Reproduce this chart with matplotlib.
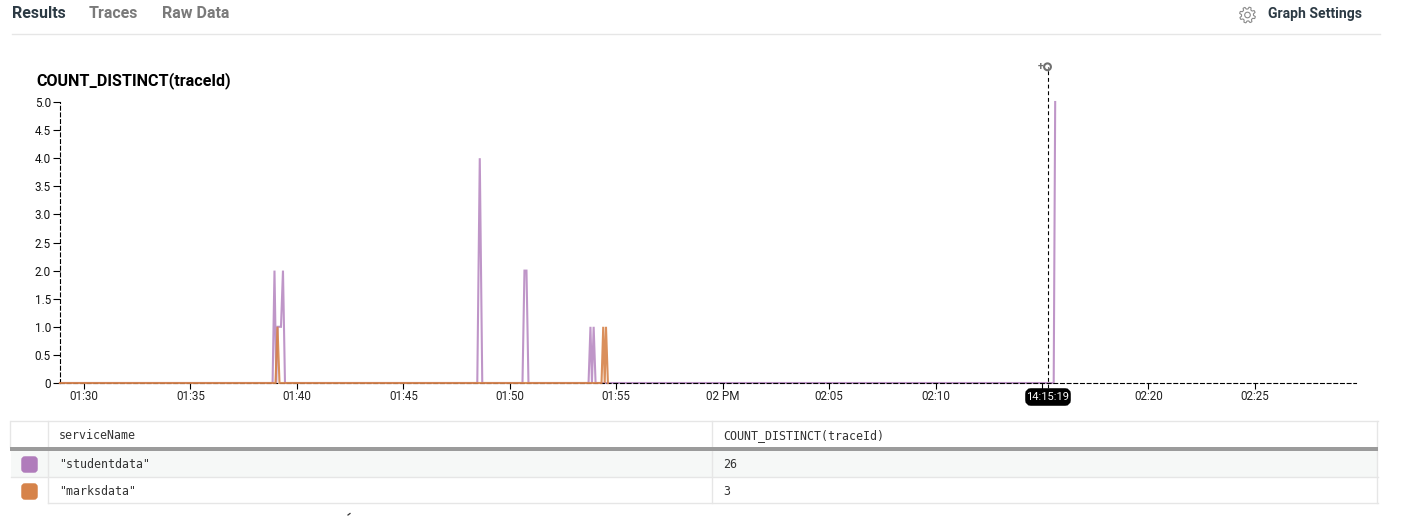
import numpy as np
import matplotlib
matplotlib.use("Agg")
import matplotlib.pyplot as plt
from matplotlib.patches import FancyBboxPatch, Rectangle, Polygon, Circle

plt.rcParams['font.family'] = ['Roboto', 'DejaVu Sans']

# minutes after 01:30
student_t = [-1.13, 8.859, 8.948, 9.032, 9.093, 9.253, 9.347, 9.441,
             18.474, 18.591, 18.708,
             20.597, 20.690, 20.785, 20.878,
             23.70, 23.79, 23.86, 23.94, 24.03,
             45.55, 45.62]
student_v = [0, 0, 2, 0, 1, 1, 2, 0,
             0, 4, 0,
             0, 2, 2, 0,
             0, 1, 0, 1, 0,
             0, 5]
marks_t = [-1.13, 8.995, 9.089, 9.183, 24.31, 24.39, 24.46, 24.52, 24.61]
marks_v = [0, 0, 1, 0, 0, 1, 0, 1, 0]

x_ticks = [0, 5, 10, 15, 20, 25, 30, 35, 40, 45, 50, 55]
x_labels = ['01:30', '01:35', '01:40', '01:45', '01:50', '01:55', '02 PM',
            '02:05', '02:10', '', '02:20', '02:25']
y_ticks = [0, 0.5, 1, 1.5, 2, 2.5, 3, 3.5, 4, 4.5, 5]
y_labels = ['0', '0.5', '1.0', '1.5', '2.0', '2.5', '3.0', '3.5', '4.0', '4.5', '5.0']
cursor_t = 45.29
cursor_label = '14:15:19'

services = ['"studentdata"', '"marksdata"']
counts = ['26', '3']
col_names = ['serviceName', 'COUNT_DISTINCT(traceId)']
title = 'COUNT_DISTINCT(traceId)'
tabs = ['Results', 'Traces', 'Raw Data']

PURPLE = '#B07CBB'
ORANGE = '#D6834A'
W, H = 1404, 516
DASH = (0, (3.5, 2.5))

fig = plt.figure(figsize=(W / 100, H / 100), dpi=100, facecolor='white')
ax = fig.add_axes([60 / W, 1 - 383 / H, (1356 - 60) / W, (383 - 102) / H])
ax.set_xlim(-1.127, 59.75)
ax.set_ylim(0, 5)
ax.plot(student_t, student_v, color=PURPLE, lw=1.5, alpha=0.8, zorder=2,
        clip_on=False, solid_joinstyle='miter')
ax.plot(marks_t, marks_v, color=ORANGE, lw=1.5, alpha=0.9, zorder=3,
        clip_on=False, solid_joinstyle='miter')
ax.spines[['top', 'right']].set_visible(False)
for side in ['left', 'bottom']:
    ax.spines[side].set_linewidth(0.8)
    ax.spines[side].set_linestyle(DASH)
ax.set_xticks(x_ticks, x_labels, fontsize=8.4, color='#222222')
ax.set_yticks(y_ticks, y_labels, fontsize=8.4, color='#111111')
ax.tick_params(axis='x', length=4.5, width=0.8, pad=0.8)
ax.tick_params(axis='y', length=5.0, width=0.8, pad=1.5)
for t in ax.xaxis.get_major_ticks() + ax.yaxis.get_major_ticks():
    t.tick1line.set_linestyle((0, (2.5, 1.5)))
ax.axvline(cursor_t, ymin=-0.018, ymax=1.125, color='black', lw=0.8, ls=DASH,
           clip_on=False, zorder=4)

ov = fig.add_axes([0, 0, 1, 1], facecolor='none')
ov.set_xlim(0, W)
ov.set_ylim(H, 0)
ov.axis('off')

# header
for name, x, c in zip(tabs, [12, 89, 162], ['#2C3A44', '#7A7A7A', '#7A7A7A']):
    ov.text(x, 13, name, fontsize=11.5, fontweight=600, color=c, va='center', ha='left')
ov.plot([12, 1380], [34, 34], color='#E6E6E6', lw=1)
ov.text(1268, 14, 'Graph Settings', fontsize=10.1, fontweight=600, color='#2C3A44',
        va='center', ha='left')

# gear icon
ang = np.linspace(0, 2 * np.pi, 8 * 6, endpoint=False)
rad = np.array([8.0, 8.0, 8.0, 6.0, 6.0, 6.0] * 8)
ov.add_patch(Polygon(np.c_[1247.5 + rad * np.cos(ang + 0.2), 15 + rad * np.sin(ang + 0.2)],
                     closed=True, fill=False, ec='#8A8A8A', lw=0.8))
ov.add_patch(Circle((1247.5, 15), 2.8, fill=False, ec='#8A8A8A', lw=0.8))

ov.text(36, 80.5, title, fontsize=11.6, fontweight='bold', color='black', va='center', ha='left')

# cursor marker and tooltip
ov.add_patch(Circle((1047.5, 66.8), 3.4, fill=False, ec='#707070', lw=1.5))
ov.text(1040.5, 67, '+', fontsize=7.5, fontweight='bold', color='#707070', va='center', ha='center')
ov.add_patch(FancyBboxPatch((1028, 391), 40, 12, boxstyle='round,pad=0,rounding_size=3',
                            mutation_aspect=1, fc='black', ec='black', lw=4, zorder=5))
ov.text(1048, 397, cursor_label, fontsize=8.0, color='white', va='center', ha='center', zorder=6)

# table
BORDER = '#E6E6E6'
ov.add_patch(Rectangle((11, 451), 1366, 26.5, fc='#F6F8F7', ec='none'))
ov.plot([11, 1377.5], [421.2, 421.2], color=BORDER, lw=1)
ov.add_patch(Rectangle((10, 447), 1368, 4, fc='#9B9B9B', ec='none', zorder=3))
ov.plot([11, 1377.5], [477.4, 477.4], color=BORDER, lw=1)
ov.plot([48, 1377.5], [503, 503], color=BORDER, lw=1)
ov.plot([47.8, 47.8], [421, 503], color=BORDER, lw=1)
ov.plot([712.2, 712.2], [421, 503], color=BORDER, lw=1)
ov.plot([1377, 1377], [421, 503], color=BORDER, lw=1)
ov.plot([10.3, 10.3], [421, 447], color=BORDER, lw=1)

MONO = 'DejaVu Sans Mono'
ov.text(59, 435.5, col_names[0], family=MONO, fontsize=8.4, color='#333333', va='center')
ov.text(723, 435.5, col_names[1], family=MONO, fontsize=8.4, color='#333333', va='center')
for name, cnt, col, yc in zip(services, counts, [PURPLE, ORANGE], [464.5, 491.5]):
    ov.add_patch(FancyBboxPatch((23, yc - 6.5), 13, 13, boxstyle='round,pad=0,rounding_size=2',
                                fc=col, ec=col, lw=2.5))
    ov.text(59, yc, name, family=MONO, fontsize=8.4, color='#333333', va='center')
    ov.text(723, yc, cnt, family=MONO, fontsize=8.4, color='#333333', va='center')

ov.plot([348, 350], [515, 513.5], color='#333333', lw=0.9)

fig.savefig('out.png', dpi=100, facecolor='white')
